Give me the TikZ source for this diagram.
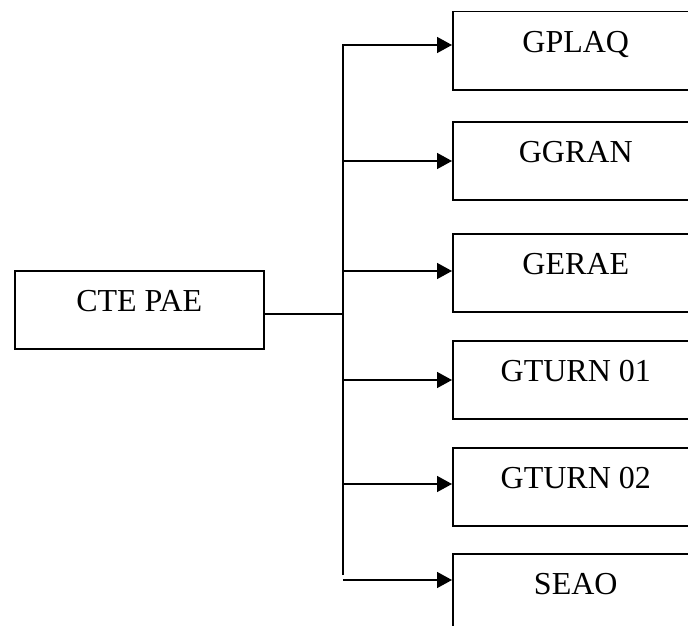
\documentclass[tikz,border=0pt]{standalone}
\usepackage{fontspec}
\setmainfont{Liberation Serif}
\usepackage{tikz}
\usetikzlibrary{arrows.meta, positioning, calc}
\definecolor{inkline}{HTML}{000000}
\tikzset{
  orgbox/.style={draw=inkline, rectangle, inner sep=0pt, line width=1.5pt,
    minimum width=246pt, minimum height=78pt, text height=41pt, text depth=37pt,
    anchor=north west, font=\fontsize{32}{38}\selectfont},
  rootbox/.style={orgbox, minimum width=249pt},
  trunk/.style={draw=inkline, line width=1.5pt},
  flow/.style={-{Triangle[length=15pt, width=16pt]}, draw=inkline, line width=1.5pt}
}

\begin{document}
\begin{tikzpicture}[x=1pt, y=-1pt]
\useasboundingbox (0,0) rectangle (688,626);
\clip (0,0) rectangle (688,626);
\node[rootbox] (cte) at (14,270) {CTE PAE};
\node[orgbox] (gplaq) at (452,11) {GPLAQ};
\node[orgbox] (ggran) at (452,121) {GGRAN};
\node[orgbox] (gerae) at (452,233) {GERAE};
\node[orgbox] (gturna) at (452,340) {GTURN 01};
\node[orgbox] (gturnb) at (452,447) {GTURN 02};
\node[orgbox] (seao) at (452,553) {SEAO};
% trunk points
\coordinate (tmid) at (343,314);
\coordinate (t1) at (343,45);
\coordinate (t2) at (343,161);
\coordinate (t3) at (343,271);
\coordinate (t4) at (343,380);
\coordinate (t5) at (343,484);
\coordinate (tend) at (343,575);
\coordinate (t6) at (343,580);
\draw[trunk] (cte.east |- tmid) -- (tmid);
\draw[flow] (tend) -- (t1) -- (t1 -| gplaq.west);
\draw[flow] (t2) -- (t2 -| ggran.west);
\draw[flow] (t3) -- (t3 -| gerae.west);
\draw[flow] (t4) -- (t4 -| gturna.west);
\draw[flow] (t5) -- (t5 -| gturnb.west);
\draw[flow] (t6) -- (t6 -| seao.west);
\end{tikzpicture}
\end{document}
